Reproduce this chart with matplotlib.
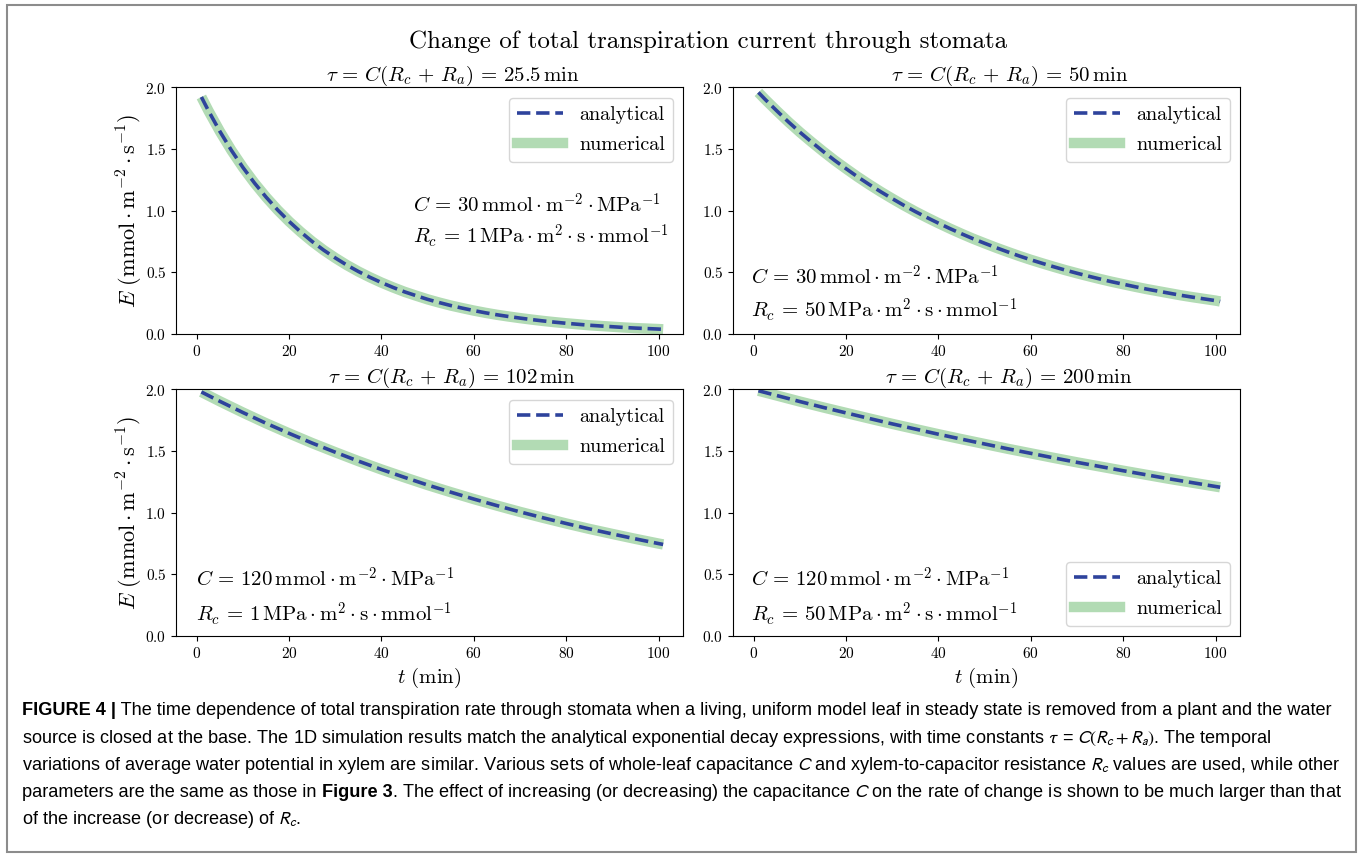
import matplotlib
matplotlib.use("Agg")
import matplotlib.pyplot as plt
from matplotlib.patches import Rectangle
from matplotlib.lines import Line2D

plt.rcParams['font.family'] = 'serif'
plt.rcParams['font.serif'] = ['cmr10']
plt.rcParams['mathtext.fontset'] = 'cm'
plt.rcParams['axes.formatter.use_mathtext'] = True
plt.rcParams['axes.unicode_minus'] = False

'''Values read off the figure'''
'''=========================='''
# finer sampling for the two fast-decaying panels
t_fine = [1, 2.5, 5, 7.5, 10, 12.5, 15, 17.5, 20, 22.5, 25, 27.5, 30, 32.5, 35,
          37.5, 40, 42.5, 45, 47.5, 50, 52.5, 55, 57.5, 60, 62.5, 65, 67.5, 70,
          72.5, 75, 77.5, 80, 82.5, 85, 87.5, 90, 92.5, 95, 97.5, 100, 101]
t = [1, 5, 10, 15, 20, 25, 30, 35, 40, 45, 50, 55, 60, 65, 70, 75, 80, 85, 90,
     95, 100, 101]

E_25 = [1.923, 1.813, 1.644, 1.490, 1.351, 1.225, 1.111, 1.007, 0.913, 0.828,
        0.750, 0.680, 0.617, 0.559, 0.507, 0.460, 0.417, 0.378, 0.342, 0.311,
        0.281, 0.255, 0.231, 0.210, 0.190, 0.172, 0.156, 0.142, 0.129, 0.117,
        0.106, 0.096, 0.087, 0.079, 0.071, 0.065, 0.059, 0.053, 0.048, 0.044,
        0.040, 0.038]
E_50 = [1.960, 1.902, 1.810, 1.721, 1.637, 1.558, 1.482, 1.409, 1.341, 1.275,
        1.213, 1.154, 1.098, 1.044, 0.993, 0.945, 0.899, 0.855, 0.813, 0.773,
        0.736, 0.700, 0.666, 0.633, 0.602, 0.573, 0.545, 0.518, 0.493, 0.469,
        0.446, 0.424, 0.404, 0.384, 0.365, 0.348, 0.331, 0.314, 0.299, 0.285,
        0.271, 0.264]
E_102 = [1.980, 1.904, 1.813, 1.726, 1.644, 1.565, 1.491, 1.419, 1.351, 1.287,
         1.225, 1.167, 1.111, 1.058, 1.007, 0.959, 0.913, 0.869, 0.828, 0.788,
         0.750, 0.743]
E_200 = [1.990, 1.951, 1.902, 1.855, 1.810, 1.765, 1.721, 1.679, 1.637, 1.597,
         1.558, 1.519, 1.482, 1.445, 1.409, 1.375, 1.341, 1.308, 1.275, 1.244,
         1.213, 1.207]

tau_vals = ['25.5', '50', '102', '200']
C_vals = ['30', '30', '120', '120']
Rc_vals = ['1', '50', '1', '50']
series = [(t_fine, E_25), (t_fine, E_50), (t, E_102), (t, E_200)]

# where the parameter text and legend sit in each panel
txt_pos = [(0.467, 0.524, 0.398), (0.036, 0.232, 0.098),
           (0.039, 0.232, 0.090), (0.036, 0.232, 0.090)]
leg_loc = ['upper right', 'upper right', 'upper right', 'lower right']

green = '#b2dbb4'
blue = '#2e439c'
eq = r'\,=\,'

W, H = 1358, 855
fig = plt.figure(figsize=(W / 100, H / 100), dpi=100)

rects = [[176, 87.5, 683, 334], [733, 87.5, 1240, 334],
         [176, 389.5, 683, 636], [733, 389.5, 1240, 636]]

for i in range(4):
    x0, y0, x1, y1 = rects[i]
    ax = fig.add_axes([x0 / W, 1 - y1 / H, (x1 - x0) / W, (y1 - y0) / H])
    tt, EE = series[i]
    ax.plot(tt, EE, color=green, lw=7.5, solid_capstyle='butt')
    ax.plot(tt, EE, color=blue, lw=2.6, ls='--')
    ax.set_xlim(-4.5, 105.3)
    ax.set_ylim(0, 2.0)
    ax.set_xticks([0, 20, 40, 60, 80, 100])
    ax.set_yticks([0.0, 0.5, 1.0, 1.5, 2.0])
    ax.tick_params(labelsize=11)
    ax.set_title(r'$\tau' + eq + r'C(R_c\,+\,R_a)' + eq + tau_vals[i] + r'\,\mathrm{min}$',
                 fontsize=15, x=0.545, pad=5)
    xt, ya, yb = txt_pos[i]
    ax.text(xt, ya, r'$C' + eq + C_vals[i] +
            r'\,\mathrm{mmol}\cdot\mathrm{m}^{-2}\cdot\mathrm{MPa}^{-1}$',
            transform=ax.transAxes, fontsize=15, va='center')
    ax.text(xt, yb, r'$R_c' + eq + Rc_vals[i] +
            r'\,\mathrm{MPa}\cdot\mathrm{m}^{2}\cdot\mathrm{s}\cdot\mathrm{mmol}^{-1}$',
            transform=ax.transAxes, fontsize=15, va='center')
    handles = [Line2D([], [], color=blue, lw=2.6, ls='--'),
               Line2D([], [], color=green, lw=7.5)]
    ax.legend(handles, ['analytical', 'numerical'], loc=leg_loc[i], fontsize=14.5,
              handlelength=2.3, labelspacing=0.6)
    if i % 2 == 0:
        ax.set_ylabel(r'$E\ (\mathrm{mmol}\cdot\mathrm{m}^{-2}\cdot\mathrm{s}^{-1})$',
                      fontsize=16, labelpad=0)
    if i >= 2:
        ax.set_xlabel(r'$t\ (\mathrm{min})$', fontsize=15)

fig.text(708 / W, 1 - 42 / H, 'Change of total transpiration current through stomata',
         fontsize=18, ha='center', va='center')

# outer frame
fig.patches.append(Rectangle((7 / W, 1 - 852 / H), (1356 - 7) / W, (852 - 5) / H,
                             transform=fig.transFigure, fill=False,
                             edgecolor='#8c8c8c', lw=1.5))

'''Caption'''
'''======='''
cap_font = 'Liberation Sans'
renderer = fig.canvas.get_renderer()


def text_width(s, size, **kw):
    # pad with x's so leading/trailing spaces get counted
    a = fig.text(0, 0, 'x' + s + 'x', fontsize=size, family=cap_font, **kw)
    b = fig.text(0, 0, 'xx', fontsize=size, family=cap_font, **kw)
    w = a.get_window_extent(renderer).width - b.get_window_extent(renderer).width
    a.remove()
    b.remove()
    return w


def rich_line(pieces, x, y, size):
    for s, kw in pieces:
        fig.text(x / W, 1 - y / H, s, fontsize=size, family=cap_font,
                 va='baseline', ha='left', math_fontfamily='stixsans', **kw)
        x += text_width(s, size, math_fontfamily='stixsans', **kw)


bold = {'weight': 'bold'}
plain = {}
cap_lines = [
    [('FIGURE 4 |', bold),
     (' The time dependence of total transpiration rate through stomata when a living, '
      'uniform model leaf in steady state is removed from a plant and the water', plain)],
    [('source is closed at the base. The 1D simulation results match the analytical '
      'exponential decay expressions, with time constants $\\tau$ = $C(R_c + R_a)$. The temporal', plain)],
    [('variations of average water potential in xylem are similar. Various sets of '
      'whole-leaf capacitance $C$ and xylem-to-capacitor resistance $R_c$ values are used, while other', plain)],
    [('parameters are the same as those in ', plain), ('Figure 3', bold),
     ('. The effect of increasing (or decreasing) the capacitance $C$ on the rate of '
      'change is shown to be much larger than that', plain)],
    [('of the increase (or decrease) of $R_c$.', plain)],
]

# size the caption so that the first line fills the frame width
w1 = sum(text_width(s, 12, math_fontfamily='stixsans', **kw) for s, kw in cap_lines[0])
cap_size = 12 * (1333 - 22) / w1

baselines = [715, 743, 770, 797, 824]
for line, yb in zip(cap_lines, baselines):
    rich_line(line, 22, yb, cap_size)

fig.savefig('out.png', dpi=100)
